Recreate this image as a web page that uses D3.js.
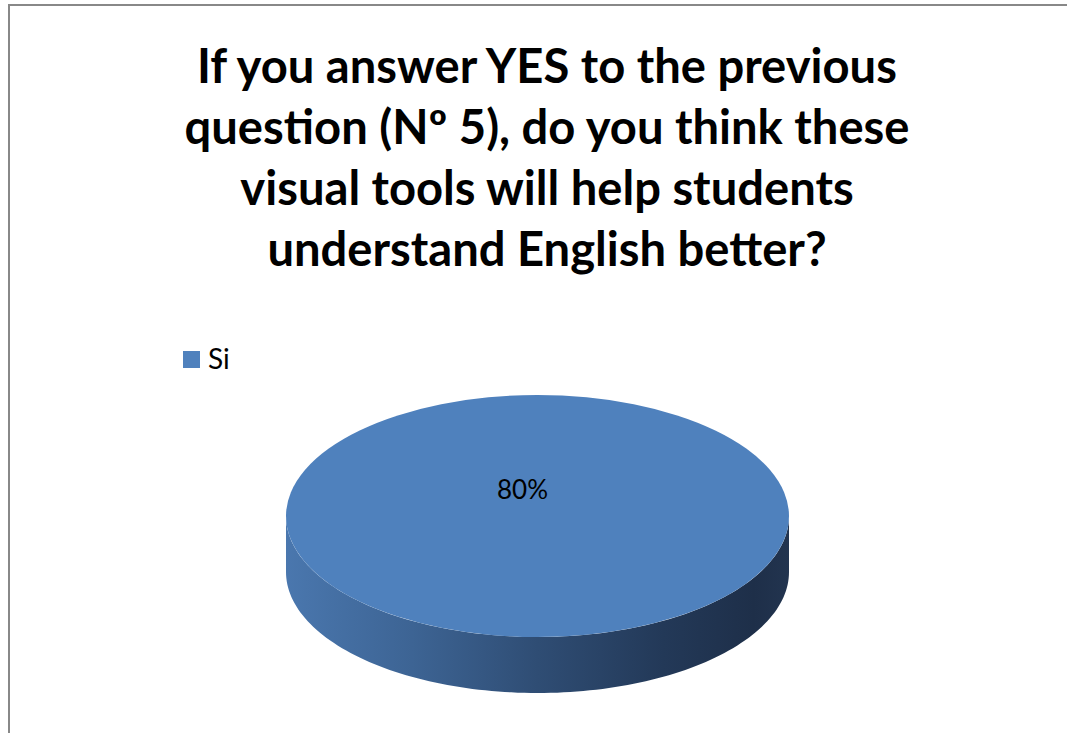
<!DOCTYPE html>
<html>
<head>
<meta charset="utf-8">
<script src="https://cdn.jsdelivr.net/npm/d3@7"></script>
<style>
  html, body { margin: 0; padding: 0; background: #fff; }
  svg { display: block; }
</style>
</head>
<body>
<svg id="chart" width="1067" height="733"></svg>
<script>
// Survey answer shares
const categories = ["Si"];
const values = [80];
const valueLabels = ["80%"];
const titleLines = [
  "If you answer YES to the previous",
  "question (Nº 5), do you think these",
  "visual tools will help students",
  "understand English better?"
];

const W = 1067, H = 733;
const svg = d3.select("#chart");
const FONT = "Lato, 'Open Sans', 'DejaVu Sans', sans-serif";

// Chart area frame
svg.append("rect")
  .attr("x", 9).attr("y", 5)
  .attr("width", W + 20).attr("height", H + 20)
  .attr("fill", "#fff")
  .attr("stroke", "#888").attr("stroke-width", 2);

// Title, fitted so the first line spans about 700px
const title = svg.append("g");
const titleCx = 547;
const baselines = [83, 144, 205, 266];
const tl = title.selectAll("text").data(titleLines).join("text")
  .attr("x", titleCx)
  .attr("y", (d, i) => baselines[i])
  .attr("text-anchor", "middle")
  .attr("font-family", FONT)
  .attr("font-weight", 700)
  .attr("font-size", 48)
  .attr("fill", "#000")
  .text(d => d);
const w0 = tl.nodes()[0].getComputedTextLength();
tl.attr("font-size", 48 * 700 / w0);

// Legend
const colour = d3.scaleOrdinal().domain(categories).range(["#4f81bd"]);
const legend = svg.append("g").attr("transform", "translate(183,351)");
const li = legend.selectAll("g").data(categories).join("g")
  .attr("transform", (d, i) => `translate(0,${i * 30})`);
li.append("rect").attr("width", 17).attr("height", 17).attr("fill", d => colour(d));
li.append("text").attr("x", 25).attr("y", 18)
  .attr("font-family", FONT).attr("font-size", 28).attr("fill", "#000")
  .text(d => d);

// 3D pie
const cx = 537.5, cy = 516, rx = 251.5, ry = 121, depth = 56;
const pie = d3.pie().sort(null)(values);

const defs = svg.append("defs");
const grad = defs.append("linearGradient")
  .attr("id", "sideGrad")
  .attr("gradientUnits", "userSpaceOnUse")
  .attr("x1", cx - rx).attr("x2", cx + rx).attr("y1", 0).attr("y2", 0);
[[0, "#4a77ae"], [0.25, "#3d6494"], [0.5, "#2f4d74"], [0.75, "#233958"], [0.93, "#1e2f49"], [1, "#22344f"]]
  .forEach(([o, c]) => grad.append("stop").attr("offset", o).attr("stop-color", c));

const pt = (a, dy) => [cx + rx * Math.sin(a), cy - ry * Math.cos(a) + dy];
const line = d3.line();

// Visible front wall of each slice
svg.append("g").selectAll("path").data(pie).join("path")
  .attr("d", d => {
    const a0 = Math.max(d.startAngle, Math.PI / 2);
    const a1 = Math.min(d.endAngle, Math.PI * 1.5);
    if (a1 <= a0) return null;
    const steps = 120;
    const angs = d3.range(steps + 1).map(k => a0 + (a1 - a0) * k / steps);
    const top = angs.map(a => pt(a, 0));
    const bot = angs.slice().reverse().map(a => pt(a, depth));
    return line(top.concat(bot)) + "Z";
  })
  .attr("fill", "url(#sideGrad)");

// Top face
const arc = d3.arc().innerRadius(0).outerRadius(1);
svg.append("g")
  .attr("transform", `translate(${cx},${cy}) scale(${rx},${ry})`)
  .selectAll("path").data(pie).join("path")
  .attr("d", arc)
  .attr("fill", (d, i) => colour(categories[i]));

// Data labels
svg.append("g").selectAll("text").data(pie).join("text")
  .attr("x", cx - 15)
  .attr("y", cy - 17)
  .attr("text-anchor", "middle")
  .attr("font-family", FONT)
  .attr("font-size", 26)
  .attr("fill", "#000")
  .text((d, i) => valueLabels[i]);
</script>
</body>
</html>
